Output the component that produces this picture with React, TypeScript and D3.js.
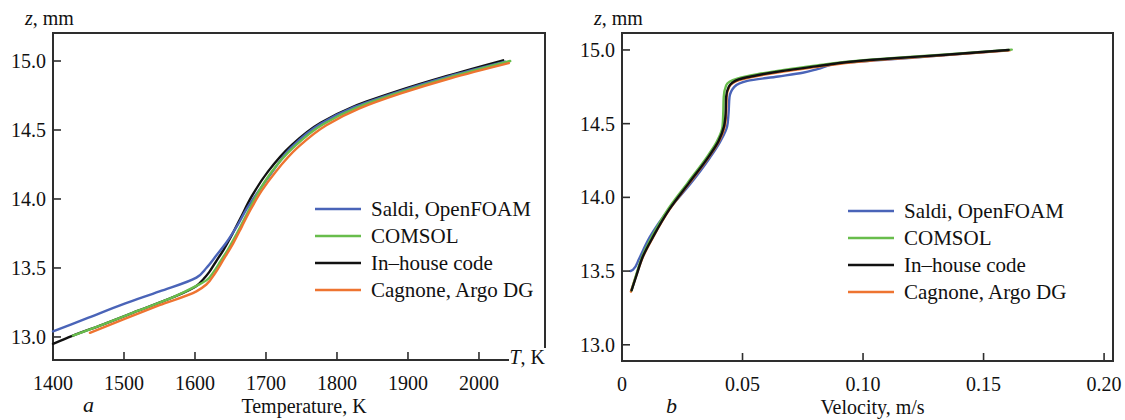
import React from "react";
import * as d3 from "d3";

// ---------- data ----------
const tempTicks = [1400, 1500, 1600, 1700, 1800, 1900, 2000];
const zTicks = [13.0, 13.5, 14.0, 14.5, 15.0];
const velTicks = [0, 0.05, 0.1, 0.15, 0.2];
const velTickLabels = ["0", "0.05", "0.10", "0.15", "0.20"];
const seriesNames = ["Saldi, OpenFOAM", "COMSOL", "In\u2013house code", "Cagnone, Argo DG"];
const seriesColors = ["#4a64b8", "#68bd4c", "#111111", "#ee7431"];

// panel a: temperature (K) vs z (mm)
const saldiT = [1400, 1450, 1500, 1550, 1602, 1616, 1630, 1645, 1660, 1673, 1690, 1708, 1735, 1777, 1824, 1885, 1955, 2037];
const saldiZ = [13.04, 13.14, 13.24, 13.33, 13.43, 13.5, 13.59, 13.69, 13.81, 13.93, 14.06, 14.19, 14.37, 14.545, 14.665, 14.775, 14.885, 14.995];
const comsolT = [1428, 1470, 1520, 1570, 1602, 1616, 1626, 1636, 1646, 1658, 1670, 1686, 1707, 1738, 1780, 1827, 1887, 1957, 2044];
const comsolZ = [13.01, 13.09, 13.19, 13.29, 13.37, 13.41, 13.47, 13.55, 13.63, 13.74, 13.86, 14.02, 14.19, 14.37, 14.54, 14.66, 14.77, 14.88, 15.0];
const inhouseT = [1400, 1428, 1470, 1520, 1570, 1602, 1612, 1620, 1630, 1640, 1652, 1664, 1680, 1703, 1735, 1777, 1824, 1885, 1955, 2034];
const inhouseZ = [12.95, 13.01, 13.09, 13.19, 13.29, 13.37, 13.42, 13.47, 13.55, 13.63, 13.74, 13.86, 14.02, 14.2, 14.385, 14.552, 14.672, 14.782, 14.892, 15.005];
const cagnoneT = [1452, 1500, 1550, 1602, 1616, 1628, 1640, 1654, 1666, 1678, 1694, 1714, 1744, 1785, 1831, 1890, 1960, 2042];
const cagnoneZ = [13.03, 13.13, 13.23, 13.33, 13.38, 13.46, 13.56, 13.68, 13.8, 13.92, 14.06, 14.2, 14.37, 14.535, 14.655, 14.765, 14.875, 14.985];

// panel b: velocity (m/s) vs z (mm)
const saldiV = [0.0035, 0.0046, 0.007, 0.009, 0.0115, 0.015, 0.0195, 0.0283, 0.0365, 0.0408, 0.0436, 0.0442, 0.0446, 0.0466, 0.052, 0.0648, 0.075, 0.0811, 0.09, 0.11, 0.133, 0.16];
const saldiVZ = [13.5, 13.51, 13.58, 13.65, 13.73, 13.82, 13.92, 14.09, 14.27, 14.38, 14.48, 14.57, 14.68, 14.75, 14.79, 14.82, 14.845, 14.87, 14.91, 14.935, 14.963, 14.998];
const comsolV = [0.004, 0.0058, 0.0084, 0.0123, 0.0191, 0.0273, 0.0355, 0.0394, 0.0417, 0.042, 0.0422, 0.0432, 0.0478, 0.0562, 0.0672, 0.0808, 0.0946, 0.11, 0.133, 0.1617];
const comsolVZ = [13.37, 13.47, 13.6, 13.73, 13.92, 14.1, 14.28, 14.38, 14.48, 14.57, 14.68, 14.76, 14.805, 14.835, 14.865, 14.895, 14.922, 14.942, 14.968, 15.002];
const inhouseV = [0.004, 0.006, 0.0087, 0.0128, 0.0197, 0.0279, 0.0361, 0.04, 0.0423, 0.043, 0.0432, 0.0443, 0.0484, 0.0566, 0.0675, 0.0811, 0.0948, 0.11, 0.133, 0.1604];
const inhouseVZ = [13.37, 13.47, 13.6, 13.73, 13.92, 14.1, 14.28, 14.38, 14.48, 14.57, 14.68, 14.75, 14.8, 14.83, 14.86, 14.89, 14.92, 14.94, 14.966, 15.0];
const cagnoneV = [0.0037, 0.0059, 0.0088, 0.0129, 0.0198, 0.0281, 0.0363, 0.0402, 0.0426, 0.0432, 0.0434, 0.0445, 0.0486, 0.0567, 0.0676, 0.0812, 0.0948, 0.11, 0.133, 0.161];
const cagnoneVZ = [13.36, 13.47, 13.6, 13.73, 13.92, 14.1, 14.28, 14.38, 14.48, 14.57, 14.68, 14.75, 14.795, 14.825, 14.855, 14.885, 14.915, 14.937, 14.963, 14.998];

const FONT = "'Liberation Serif', 'Times New Roman', serif";
const FRAME = "#2e2e2e";

type Series = { xs: number[]; zs: number[]; idx: number };

function zip(xs: number[], zs: number[]): [number, number][] {
  return xs.map((x, i) => [x, zs[i]]);
}

function Panel(props: {
  x0: number; x1: number; y0: number; y1: number;
  xDomain: [number, number]; yDomain: [number, number];
  xTicks: number[]; xLabels: string[];
  series: Series[]; // in draw order
  legendX: number; legendY: number;
  title: string; letter: string; letterX: number;
  cornerLabel?: boolean;
}) {
  const { x0, x1, y0, y1 } = props;
  const xs = d3.scaleLinear().domain(props.xDomain).range([x0, x1]);
  const ys = d3.scaleLinear().domain(props.yDomain).range([y1, y0]);
  const line = d3.line<[number, number]>().x((d) => xs(d[0])).y((d) => ys(d[1])).curve(d3.curveMonotoneY);
  const rowH = 27;
  return (
    <g fontFamily={FONT} fill="#111">
      <rect x={x0} y={y0} width={x1 - x0} height={y1 - y0} fill="white" stroke={FRAME} strokeWidth={2} />
      {props.series.map((s) => (
        <path key={s.idx} d={line(zip(s.xs, s.zs)) || ""} fill="none" stroke={seriesColors[s.idx]} strokeWidth={2.4} strokeLinejoin="round" strokeLinecap="round" />
      ))}
      {/* y ticks */}
      {zTicks.map((t) => (
        <g key={"y" + t}>
          <line x1={x0} x2={x0 + 8} y1={ys(t)} y2={ys(t)} stroke={FRAME} strokeWidth={1.6} />
          <text x={x0 - 7} y={ys(t) + 7} textAnchor="end" fontSize={20}>{t.toFixed(1)}</text>
        </g>
      ))}
      {/* x ticks */}
      {props.xTicks.map((t, i) => (
        <g key={"x" + t}>
          <line x1={xs(t)} x2={xs(t)} y1={y1} y2={y1 - 8} stroke={FRAME} strokeWidth={1.6} />
          <text x={xs(t)} y={y1 + 30} textAnchor="middle" fontSize={20}>{props.xLabels[i]}</text>
        </g>
      ))}
      {props.cornerLabel && (
        <g>
          <rect x={x1 - 36} y={y1 - 12} width={40} height={22} fill="white" />
          <text x={x1} y={y1 + 4} textAnchor="end" fontSize={20}>
            <tspan fontStyle="italic">T</tspan>, K
          </text>
        </g>
      )}
      {/* z label */}
      <text x={x0 - 28} y={y0 - 8} fontSize={20}>
        <tspan fontStyle="italic">z</tspan>, mm
      </text>
      {/* axis title + letter */}
      <text x={(x0 + x1) / 2 + 5} y={y1 + 53} textAnchor="middle" fontSize={20}>{props.title}</text>
      <text x={props.letterX} y={y1 + 52} fontSize={22} fontStyle="italic">{props.letter}</text>
      {/* legend */}
      {seriesNames.map((n, i) => (
        <g key={n}>
          <line x1={props.legendX} x2={props.legendX + 46} y1={props.legendY + i * rowH} y2={props.legendY + i * rowH} stroke={seriesColors[i]} strokeWidth={2.4} />
          <text x={props.legendX + 56} y={props.legendY + i * rowH + 7} fontSize={21}>{n}</text>
        </g>
      ))}
    </g>
  );
}

export default function App() {
  return (
    <svg width={1125} height={420} style={{ position: "absolute", left: 0, top: 0, background: "white" }}>
      <Panel
        x0={53} x1={545} y0={33} y1={360}
        xDomain={[1400, 2093]} yDomain={[12.833, 15.203]}
        xTicks={tempTicks} xLabels={tempTicks.map(String)}
        series={[
          { xs: inhouseT, zs: inhouseZ, idx: 2 },
          { xs: saldiT, zs: saldiZ, idx: 0 },
          { xs: comsolT, zs: comsolZ, idx: 1 },
          { xs: cagnoneT, zs: cagnoneZ, idx: 3 },
        ]}
        legendX={315} legendY={209}
        title="Temperature, K" letter="a" letterX={83}
        cornerLabel
      />
      <Panel
        x0={622} x1={1113} y0={33} y1={361}
        xDomain={[0, 0.2037]} yDomain={[12.89, 15.115]}
        xTicks={velTicks} xLabels={velTickLabels}
        series={[
          { xs: saldiV, zs: saldiVZ, idx: 0 },
          { xs: cagnoneV, zs: cagnoneVZ, idx: 3 },
          { xs: comsolV, zs: comsolVZ, idx: 1 },
          { xs: inhouseV, zs: inhouseVZ, idx: 2 },
        ]}
        legendX={848} legendY={211}
        title="Velocity, m/s" letter="b" letterX={666}
      />
    </svg>
  );
}
